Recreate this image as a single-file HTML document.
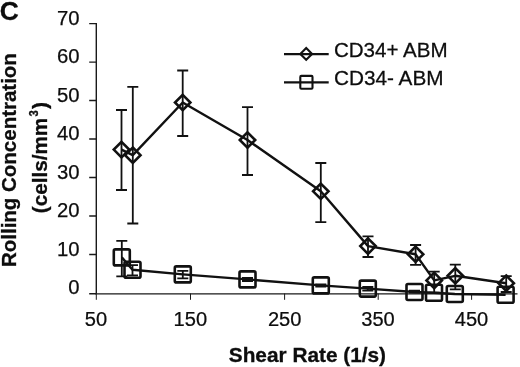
<!DOCTYPE html>
<html>
<head>
<meta charset="utf-8">
<title>Chart</title>
<style>
html,body{margin:0;padding:0;background:#fff;}
body{width:520px;height:367px;overflow:hidden;font-family:"Liberation Sans",sans-serif;}
svg{display:block;will-change:transform;}
text{font-family:"Liberation Sans",sans-serif;fill:#0d0d0d;}
.tk{font-size:20.3px;stroke:#0d0d0d;stroke-width:0.25;}
.lg{font-size:19.6px;stroke:#0d0d0d;stroke-width:0.25;}
.b{font-weight:bold;stroke:#0d0d0d;stroke-width:0.3;}
</style>
</head>
<body>
<svg width="520" height="367" viewBox="0 0 520 367">
<rect width="520" height="367" fill="#fff"/>
<!-- axes -->
<g stroke="#1a1a1a" stroke-width="1.4" fill="none">
<line x1="96.3" y1="22.9" x2="96.3" y2="293.8"/>
<line x1="95.3" y1="293.9" x2="517.5" y2="293.9" stroke-width="1.2"/>
<path d="M89.2 23.6H96 M89.2 62.1H96 M89.2 100.5H96 M89.2 139H96 M89.2 177.5H96 M89.2 216H96 M89.2 254.5H96 M89.2 293.7H96"/>
<path stroke-width="1.0" d="M96.3 293.5V299.8 M190.5 293.5V299.8 M284.6 293.5V299.8 M378.2 293.5V299.8 M471.6 293.5V299.8"/>
</g>
<!-- y tick labels -->
<g class="tk" text-anchor="end">
<text transform="translate(79.6 24.8)">70</text>
<text transform="translate(79.6 63.3)">60</text>
<text transform="translate(79.6 101.7)">50</text>
<text transform="translate(79.6 140.2)">40</text>
<text transform="translate(79.6 178.7)">30</text>
<text transform="translate(79.6 217.2)">20</text>
<text transform="translate(79.6 255.7)">10</text>
<text transform="translate(79.6 294.2)">0</text>
</g>
<!-- x tick labels -->
<g class="tk" text-anchor="middle">
<text transform="translate(96 326.4) scale(0.99 1)">50</text>
<text transform="translate(190.3 326.4) scale(0.99 1)">150</text>
<text transform="translate(284.7 326.4) scale(0.99 1)">250</text>
<text transform="translate(378 326.4) scale(0.99 1)">350</text>
<text transform="translate(471.5 326.4) scale(0.99 1)">450</text>
</g>
<!-- titles -->
<text class="b" x="-0.3" y="19.8" font-size="26.3">C</text>
<text class="b" font-size="20.8" x="228.8" y="361.6">Shear Rate (1/s)</text>
<text class="b" font-size="20.5" transform="translate(16.2 267.0) rotate(-90) scale(1 0.99)">Rolling Concentration</text>
<text class="b" font-size="20.7" transform="translate(47.2 213.2) rotate(-90)">(cells/mm</text>
<text class="b" font-size="12.5" transform="translate(37.6 116.4) rotate(-90) scale(0.9 1.08)">3</text>
<text class="b" font-size="21" transform="translate(47.2 109) rotate(-90)">)</text>
<!-- legend -->
<g stroke="#111" stroke-width="2.1" fill="none">
<line x1="284" y1="54.1" x2="328.7" y2="54.1"/>
<path d="M306.2 48L312.1 53.9L306.2 59.8L300.3 53.9Z"/>
<line x1="284" y1="82.4" x2="328.7" y2="82.4"/>
<rect x="300.3" y="75.9" width="12.2" height="12.8" rx="1"/>
</g>
<text class="lg" transform="translate(333.9 56.8) scale(1.05 1)">CD34+ ABM</text>
<text class="lg" transform="translate(333.9 85) scale(1.06 1)">CD34- ABM</text>
<!-- series lines -->
<g stroke="#111" stroke-width="2.4" fill="none" stroke-linejoin="round">
<polyline points="121.5,149.6 132.8,155.2 182.7,102.5 247.5,140.0 320.8,191.3 368.0,246.1 415.6,254.3 434.2,280.4 455.3,275.8 506.2,283.2"/>
<polyline points="121.8,257.4 132.5,269.8 182.8,274.4 247.5,279.4 320.8,285.4 367.8,288.6 414.5,292.0 434.0,292.8 454.8,294.0 505.6,294.8"/>
</g>
<!-- error bars -->
<g stroke="#111" stroke-width="1.8" fill="none">
<path d="M121.5 110.0V190.0 M116.0 110.0H127.0 M116.0 190.0H127.0"/>
<path d="M132.8 86.8V223.5 M127.3 86.8H138.3 M127.3 223.5H138.3"/>
<path d="M182.7 70.5V136.0 M177.2 70.5H188.2 M177.2 136.0H188.2"/>
<path d="M247.5 107.2V175.0 M242.0 107.2H253.0 M242.0 175.0H253.0"/>
<path d="M320.8 163.0V222.2 M315.3 163.0H326.3 M315.3 222.2H326.3"/>
<path d="M368.0 236.3V257.0 M362.5 236.3H373.5 M362.5 257.0H373.5"/>
<path d="M415.6 245.0V264.8 M410.1 245.0H421.1 M410.1 264.8H421.1"/>
<path d="M434.2 271.6V292.6 M428.7 271.6H439.7 M428.7 292.6H439.7"/>
<path d="M455.3 264.6V289.3 M449.8 264.6H460.8 M449.8 289.3H460.8"/>
<path d="M506.2 276.2V292.0 M500.7 276.2H511.7 M500.7 292.0H511.7"/>
<path d="M121.8 240.8V276.4 M116.3 240.8H127.3 M116.3 276.4H127.3"/>
<path d="M132.5 265.2V275.4 M127.0 265.2H138.0 M127.0 275.4H138.0"/>
<path d="M182.8 270.8V278.4 M177.3 270.8H188.3 M177.3 278.4H188.3"/>
<path d="M247.5 278.0V281.0 M242.0 278.0H253.0 M242.0 281.0H253.0"/>
<path d="M320.8 284.4V286.6 M315.3 284.4H326.3 M315.3 286.6H326.3"/>
<path d="M367.8 287.0V290.6 M362.3 287.0H373.3 M362.3 290.6H373.3"/>
<path d="M414.5 290.7V292.7 M409.0 290.7H420.0 M409.0 292.7H420.0"/>
</g>
<!-- markers -->
<g stroke="#111" stroke-width="2.6" fill="none">
<path d="M121.5 141.9l7.7 7.7l-7.7 7.7l-7.7 -7.7z"/>
<path d="M132.8 147.5l7.7 7.7l-7.7 7.7l-7.7 -7.7z"/>
<path d="M182.7 94.8l7.7 7.7l-7.7 7.7l-7.7 -7.7z"/>
<path d="M247.5 132.3l7.7 7.7l-7.7 7.7l-7.7 -7.7z"/>
<path d="M320.8 183.6l7.7 7.7l-7.7 7.7l-7.7 -7.7z"/>
<path d="M368.0 238.4l7.7 7.7l-7.7 7.7l-7.7 -7.7z"/>
<path d="M415.6 246.6l7.7 7.7l-7.7 7.7l-7.7 -7.7z"/>
<path d="M434.2 272.7l7.7 7.7l-7.7 7.7l-7.7 -7.7z"/>
<path d="M455.3 268.1l7.7 7.7l-7.7 7.7l-7.7 -7.7z"/>
<path d="M506.2 275.5l7.7 7.7l-7.7 7.7l-7.7 -7.7z"/>
<rect x="113.8" y="249.4" width="16.0" height="16.0" rx="1.5"/>
<rect x="124.5" y="261.8" width="16.0" height="16.0" rx="1.5"/>
<rect x="174.8" y="266.4" width="16.0" height="16.0" rx="1.5"/>
<rect x="239.5" y="271.4" width="16.0" height="16.0" rx="1.5"/>
<rect x="312.8" y="277.4" width="16.0" height="16.0" rx="1.5"/>
<rect x="359.8" y="280.6" width="16.0" height="16.0" rx="1.5"/>
<rect x="406.5" y="284.0" width="16.0" height="16.0" rx="1.5"/>
<rect x="426.0" y="284.8" width="16.0" height="16.0" rx="1.5"/>
<rect x="446.8" y="286.0" width="16.0" height="16.0" rx="1.5"/>
<rect x="497.6" y="286.8" width="16.0" height="16.0" rx="1.5"/>
</g>
</svg>
</body>
</html>
